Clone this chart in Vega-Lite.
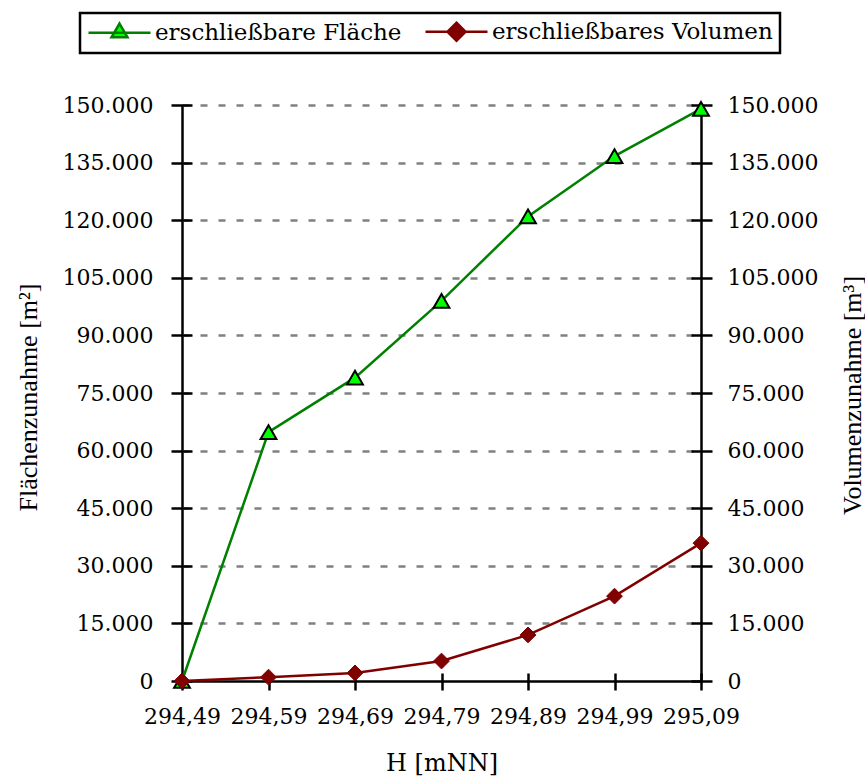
{
  "$schema": "https://vega.github.io/schema/vega-lite/v6.json",
  "width": 519,
  "height": 576,
  "autosize": {"type": "none"},
  "padding": {"left": 182, "top": 105, "right": 164, "bottom": 95},
  "background": "white",
  "config": {
    "view": {"stroke": null},
    "font": "DejaVu Serif",
    "axis": {"labelFont": "DejaVu Serif", "titleFont": "DejaVu Serif", "labelColor": "black", "titleColor": "black", "titleFontWeight": "normal", "labelFontSize": 22, "titleFontSize": 23, "tickColor": "black", "tickWidth": 2.5, "domain": false},
    "legend": {"strokeWidth": 2.5, "labelFont": "DejaVu Serif", "labelLimit": 0}
  },
  "data": {
    "values": [
      {"H": "294,49", "Serie": "erschließbare Fläche", "Wert": 0},
      {"H": "294,59", "Serie": "erschließbare Fläche", "Wert": 64800},
      {"H": "294,69", "Serie": "erschließbare Fläche", "Wert": 79000},
      {"H": "294,79", "Serie": "erschließbare Fläche", "Wert": 99000},
      {"H": "294,89", "Serie": "erschließbare Fläche", "Wert": 121000},
      {"H": "294,99", "Serie": "erschließbare Fläche", "Wert": 136700},
      {"H": "295,09", "Serie": "erschließbare Fläche", "Wert": 149000},
      {"H": "294,49", "Serie": "erschließbares Volumen", "Wert": 0},
      {"H": "294,59", "Serie": "erschließbares Volumen", "Wert": 1000},
      {"H": "294,69", "Serie": "erschließbares Volumen", "Wert": 2100},
      {"H": "294,79", "Serie": "erschließbares Volumen", "Wert": 5200},
      {"H": "294,89", "Serie": "erschließbares Volumen", "Wert": 12000},
      {"H": "294,99", "Serie": "erschließbares Volumen", "Wert": 22100},
      {"H": "295,09", "Serie": "erschließbares Volumen", "Wert": 35900}
    ]
  },
  "encoding": {
    "x": {
      "field": "H",
      "type": "ordinal",
      "sort": null,
      "scale": {"type": "point", "padding": 0},
      "axis": {
        "orient": "bottom",
        "offset": -8,
        "tickSize": 17,
        "labelPadding": 16,
        "labelAngle": 0,
        "labelOverlap": false,
        "labelFlush": false,
        "labelFont": "DejaVu Serif",
        "labelFontSize": 22,
        "title": "H [mNN]",
        "titleFont": "DejaVu Serif",
        "titleFontSize": 24,
        "titleY": 90,
        "titleBaseline": "middle",
        "grid": true,
        "gridWidth": 2.5,
        "gridColor": {"condition": {"test": "datum.value === '294,49' || datum.value === '295,09'", "value": "black"}, "value": "transparent"}
      }
    }
  },
  "layer": [
    {
      "transform": [{"filter": "datum.Serie === 'erschließbare Fläche'"}],
      "encoding": {
        "y": {
          "field": "Wert",
          "type": "quantitative",
          "scale": {"domain": [0, 150000], "nice": false},
          "axis": {
            "orient": "left",
            "offset": -10,
            "tickSize": 21,
            "labelPadding": 18,
            "labelFont": "DejaVu Serif",
            "labelFontSize": 22,
            "values": [0, 15000, 30000, 45000, 60000, 75000, 90000, 105000, 120000, 135000, 150000],
            "labelExpr": "replace(format(datum.value, ','), ',', '.')",
            "title": "Flächenzunahme [m²]",
            "titleFont": "Liberation Serif",
            "titleFontSize": 26,
            "titleX": -164,
            "titleY": 292,
            "titleAngle": 270,
            "titleBaseline": "middle",
            "grid": true,
            "gridWidth": 2.5,
            "gridColor": {"condition": {"test": "datum.value === 0", "value": "black"}, "value": "#808080"},
            "gridDash": {"condition": {"test": "datum.value === 0", "value": []}, "value": [7, 11]}
          }
        }
      },
      "layer": [
        {
          "mark": {"type": "line", "strokeWidth": 2.5},
          "encoding": {
            "color": {
              "field": "Serie",
              "type": "nominal",
              "scale": {"domain": ["erschließbare Fläche", "erschließbares Volumen"], "range": ["#008000", "#800000"]},
              "legend": {
                "orient": "none",
                "legendX": -102,
                "legendY": -92,
                "direction": "horizontal",
                "title": null,
                "strokeColor": "black",
                "padding": 7,
                "symbolSize": 400,
                "labelFont": "DejaVu Serif",
                "labelFontSize": 23,
                "labelLimit": 0,
                "labelColor": "black",
                "labelOffset": 45,
                "columnPadding": 18,
                "encode": {
                  "symbols": {
                    "update": {
                      "shape": {"signal": "datum.value === 'erschließbare Fläche' ? 'M-1,0L5.2,0M2.1,-0.92L2.9,0.46L1.3,0.46Z' : 'M-1,0L5.2,0M2.1,-0.9L3.0,0L2.1,0.9L1.2,0Z'"},
                      "fill": {"signal": "datum.value === 'erschließbare Fläche' ? '#00ff00' : '#800000'"},
                      "stroke": {"signal": "datum.value === 'erschließbare Fläche' ? '#008000' : '#800000'"},
                      "strokeWidth": {"value": 2.5},
                      "opacity": {"value": 1},
                      "fillOpacity": {"value": 1}
                    }
                  }
                }
              }
            }
          }
        },
        {
          "mark": {"type": "point", "shape": "triangle-up", "filled": true, "size": 250, "fill": "#00ff00", "stroke": "black", "strokeWidth": 2, "opacity": 1}
        }
      ]
    },
    {
      "transform": [{"filter": "datum.Serie === 'erschließbares Volumen'"}],
      "encoding": {
        "y": {
          "field": "Wert",
          "type": "quantitative",
          "scale": {"domain": [0, 150000], "nice": false},
          "axis": {
            "orient": "right",
            "offset": -10,
            "tickSize": 21,
            "labelPadding": 15,
            "labelFont": "DejaVu Serif",
            "labelFontSize": 22,
            "values": [0, 15000, 30000, 45000, 60000, 75000, 90000, 105000, 120000, 135000, 150000],
            "labelExpr": "replace(format(datum.value, ','), ',', '.')",
            "title": "Volumenzunahme [m³]",
            "titleFont": "Liberation Serif",
            "titleFontSize": 26,
            "titleX": 161,
            "titleY": 290,
            "titleAngle": 270,
            "titleBaseline": "middle",
            "grid": false
          }
        }
      },
      "layer": [
        {
          "mark": {"type": "line", "strokeWidth": 2.5},
          "encoding": {
            "color": {"field": "Serie", "type": "nominal"}
          }
        },
        {
          "mark": {"type": "point", "shape": "diamond", "filled": true, "size": 250, "fill": "#800000", "stroke": "#800000", "strokeWidth": 1, "opacity": 1}
        }
      ]
    }
  ],
  "resolve": {"scale": {"y": "independent"}}
}
